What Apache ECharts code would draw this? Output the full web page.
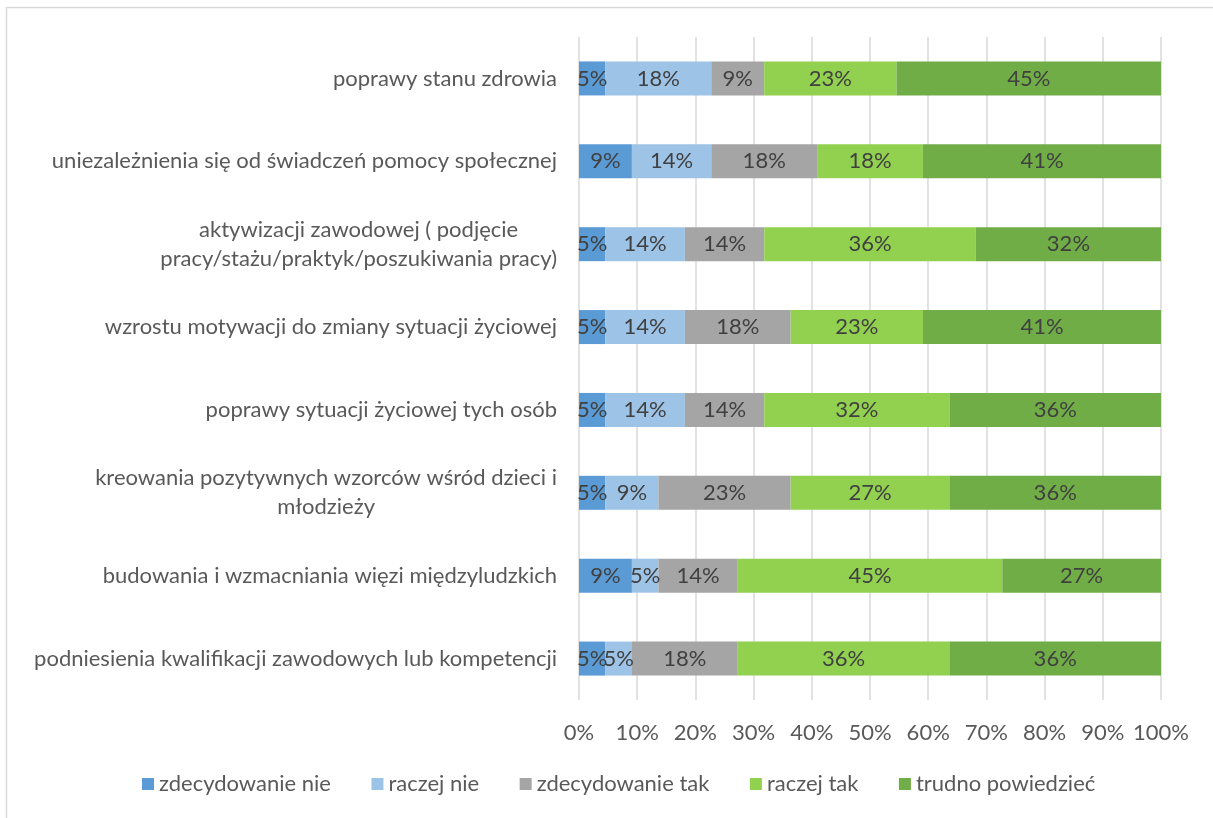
<!DOCTYPE html>
<html><head><meta charset="utf-8">
<script src="https://cdn.jsdelivr.net/npm/echarts@6/dist/echarts.min.js"></script>
<style>html,body{margin:0;padding:0;background:#fff}#c{width:1213px;height:818px}</style>
</head><body><div id="c"></div>
<script>
const categories = [
  "poprawy stanu zdrowia",
  "uniezależnienia się od świadczeń pomocy społecznej",
  "aktywizacji zawodowej ( podjęcie\npracy/stażu/praktyk/poszukiwania pracy)",
  "wzrostu motywacji do zmiany sytuacji życiowej",
  "poprawy sytuacji życiowej tych osób",
  "kreowania pozytywnych wzorców wśród dzieci i\nmłodzieży",
  "budowania i wzmacniania więzi międzyludzkich",
  "podniesienia kwalifikacji zawodowych lub kompetencji"
];
const seriesNames = ["zdecydowanie nie", "raczej nie", "zdecydowanie tak", "raczej tak", "trudno powiedzieć"];
const zdecydowanieNie = [4.55, 9.09, 4.55, 4.55, 4.55, 4.55, 9.09, 4.55];
const raczejNie       = [18.18, 13.64, 13.64, 13.64, 13.64, 9.09, 4.55, 4.55];
const zdecydowanieTak = [9.09, 18.18, 13.64, 18.18, 13.64, 22.73, 13.64, 18.18];
const raczejTak       = [22.73, 18.18, 36.36, 22.73, 31.82, 27.27, 45.45, 36.36];
const trudnoPowiedziec= [45.45, 40.91, 31.82, 40.91, 36.36, 36.36, 27.27, 36.36];
const tickLabels = ["0%","10%","20%","30%","40%","50%","60%","70%","80%","90%","100%"];

const colors = ["#5B9BD5", "#9DC3E6", "#A5A5A5", "#92D050", "#70AD47"];
const FONT = "Lato";
const FS = 22;
const allData = [zdecydowanieNie, raczejNie, zdecydowanieTak, raczejTak, trudnoPowiedziec];

const chart = echarts.init(document.getElementById('c'), null, {renderer: 'canvas'});
chart.setOption({
  animation: false,
  backgroundColor: '#fff',
  textStyle: {fontFamily: FONT},
  graphic: [{type: 'rect', shape: {x: 6.5, y: 7.5, width: 1400, height: 1000}, style: {fill: 'none', stroke: '#D9D9D9', lineWidth: 1.5}, silent: true, z: -1}],
  legend: {
    top: 768, left: 137, itemWidth: 12, itemHeight: 12, itemGap: 40.5,
    icon: 'rect',
    textStyle: {color: '#595959', fontSize: FS, fontFamily: FONT},
    data: seriesNames
  },
  grid: {left: 579, right: 52, top: 37, bottom: 118, containLabel: false},
  xAxis: {
    type: 'value', min: 0, max: 100, interval: 10,
    axisLine: {show: false}, axisTick: {show: false},
    splitLine: {show: true, lineStyle: {color: '#D9D9D9', width: 1.5}},
    axisLabel: {color: '#595959', fontSize: FS, fontFamily: FONT, margin: 22,
      formatter: (v) => tickLabels[Math.round(v / 10)]}
  },
  yAxis: {
    type: 'category', inverse: true, data: categories,
    axisLine: {show: false}, axisTick: {show: false},
    axisLabel: {
      color: '#595959', fontSize: FS, fontFamily: FONT, margin: 22, align: 'right',
      formatter: (v) => v.split('\n').map(s => '{c|' + s + '}').join('\n'),
      rich: {c: {align: 'center', color: '#595959', fontSize: FS, fontFamily: FONT, lineHeight: 29}}
    }
  },
  series: seriesNames.map((name, i) => ({
    name, type: 'bar', stack: 'total', barWidth: 34,
    itemStyle: {color: colors[i]},
    label: {show: true, position: 'inside', color: '#404040', fontSize: FS, fontFamily: FONT,
      formatter: (p) => Math.round(p.value) + '%'},
    data: allData[i]
  }))
});
</script></body></html>
